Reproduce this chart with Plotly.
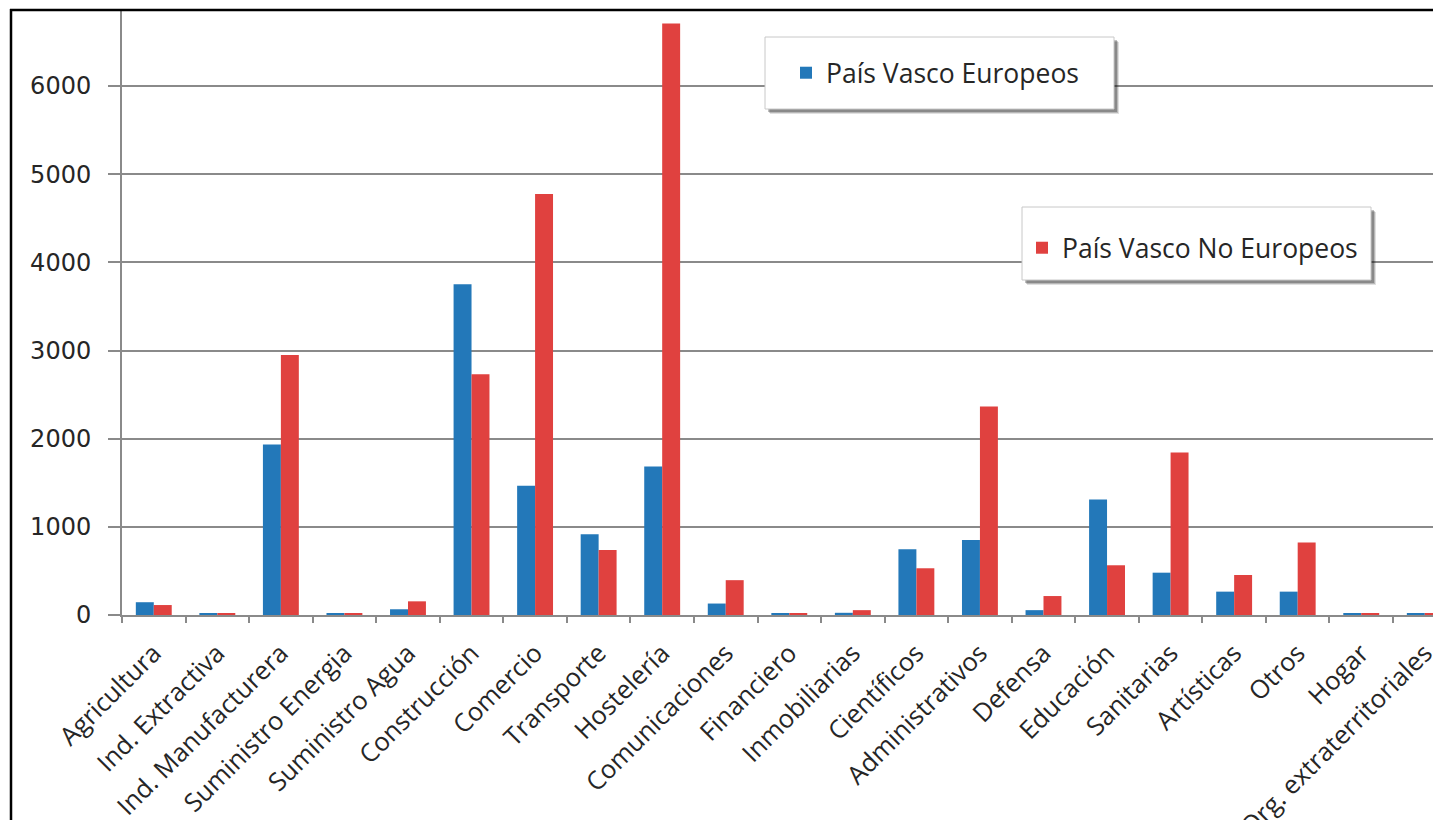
import plotly.graph_objects as go

categories = [
    "Agricultura", "Ind. Extractiva", "Ind. Manufacturera", "Suministro Energia",
    "Suministro Agua", "Construcción", "Comercio", "Transporte", "Hostelería",
    "Comunicaciones", "Financiero", "Inmobiliarias", "Científicos",
    "Administrativos", "Defensa", "Educación", "Sanitarias", "Artísticas",
    "Otros", "Hogar", "Org. extraterritoriales",
]
europeos = [145, 15, 1935, 18, 65, 3750, 1465, 915, 1685,
            130, 20, 25, 745, 850, 55, 1310, 480, 265, 265, 18, 15]
no_europeos = [113, 20, 2950, 20, 155, 2730, 4775, 737, 6710,
               395, 22, 55, 530, 2365, 215, 564, 1842, 454, 821, 20, 15]

series_names = ["País Vasco Europeos", "País Vasco No Europeos"]
tick_vals = [0, 1000, 2000, 3000, 4000, 5000, 6000]
tick_text = ["0", "1000", "2000", "3000", "4000", "5000", "6000"]

BLUE = "#2378b9"
RED = "#e0413f"
GRID = "#8a8a8a"
TXT = "#262626"
FONT = "Open Sans"

# page offset of the figure inside the html body (default 8px body margin)
O = 8
W, H = 1441, 820
# desired page-pixel geometry of the plot area
PL, PR, PT, PB = 122, 1441, 10, 615
L = PL - O
T = PT - O
R = W - (PR - O)
B = H - (PB - O)
PW = PR - PL
PH = PB - PT


def px_x(p):
    return (p - PL) / PW


def px_y(p):
    return (PB - p) / PH


fig = go.Figure()
fig.add_trace(go.Bar(x=categories, y=europeos, name=series_names[0], showlegend=True,
                     marker=dict(color=BLUE, line=dict(width=0)), legend="legend"))
fig.add_trace(go.Bar(x=categories, y=no_europeos, name=series_names[1], showlegend=True,
                     marker=dict(color=RED, line=dict(width=0)), legend="legend2"))

shapes = []


def legend_box(x0, y0, x1, y1):
    for off, op in [(5, 0.12), (4, 0.18), (3, 0.25)]:
        shapes.append(dict(type="rect", xref="paper", yref="paper", layer="above",
                           x0=px_x(x0 + off), x1=px_x(x1 + off),
                           y0=px_y(y1 + off), y1=px_y(y0 + off),
                           line=dict(width=0), fillcolor=f"rgba(0,0,0,{op})"))
    shapes.append(dict(type="rect", xref="paper", yref="paper", layer="above",
                       x0=px_x(x0), x1=px_x(x1), y0=px_y(y1), y1=px_y(y0),
                       line=dict(width=1, color="#c8c8c8"), fillcolor="white"))


legend_box(765, 37, 1114, 109)
legend_box(1022, 207, 1371, 280)

shapes.append(dict(type="line", xref="paper", yref="paper", layer="above",
                   x0=px_x(11), x1=px_x(11), y0=px_y(830), y1=px_y(9),
                   line=dict(color="black", width=2.5)))
shapes.append(dict(type="line", xref="paper", yref="paper", layer="above",
                   x0=px_x(10), x1=px_x(1450), y0=px_y(10), y1=px_y(10),
                   line=dict(color="black", width=2.5)))

fig.update_layout(
    width=W, height=H,
    margin=dict(l=L, r=R, t=T, b=B, autoexpand=False),
    paper_bgcolor="white", plot_bgcolor="white",
    barmode="group", bargap=0.435, bargroupgap=0,
    font=dict(family=FONT, color=TXT),
    showlegend=True,
    shapes=shapes,
    legend=dict(x=px_x(786), y=px_y(73), xanchor="left", yanchor="middle",
                bgcolor="rgba(0,0,0,0)", borderwidth=0,
                font=dict(size=26.5, family=FONT, color=TXT)),
    legend2=dict(x=px_x(1022), y=px_y(248), xanchor="left", yanchor="middle",
                 bgcolor="rgba(0,0,0,0)", borderwidth=0,
                 font=dict(size=26.5, family=FONT, color=TXT)),
    xaxis=dict(
        type="category", range=[-0.5, 20.255], automargin=False,
        showline=True, linecolor=GRID, linewidth=2,
        ticks="outside", tickson="boundaries", ticklen=6, tickcolor=GRID, tickwidth=1.5,
        tickangle=-45, tickfont=dict(size=25.5, family=FONT, color=TXT),
        ticklabelstandoff=11, showgrid=False, fixedrange=True,
    ),
    yaxis=dict(
        range=[0, 6862], automargin=False,
        tickmode="array", tickvals=tick_vals, ticktext=tick_text,
        showgrid=True, gridcolor=GRID, gridwidth=2,
        showline=True, linecolor=GRID, linewidth=2,
        ticks="outside", ticklen=12, tickcolor=GRID, tickwidth=2,
        tickfont=dict(size=24, family="DejaVu Sans", color=TXT),
        ticklabelstandoff=12, zeroline=False,
    ),
)

fig.write_html("out.html")
